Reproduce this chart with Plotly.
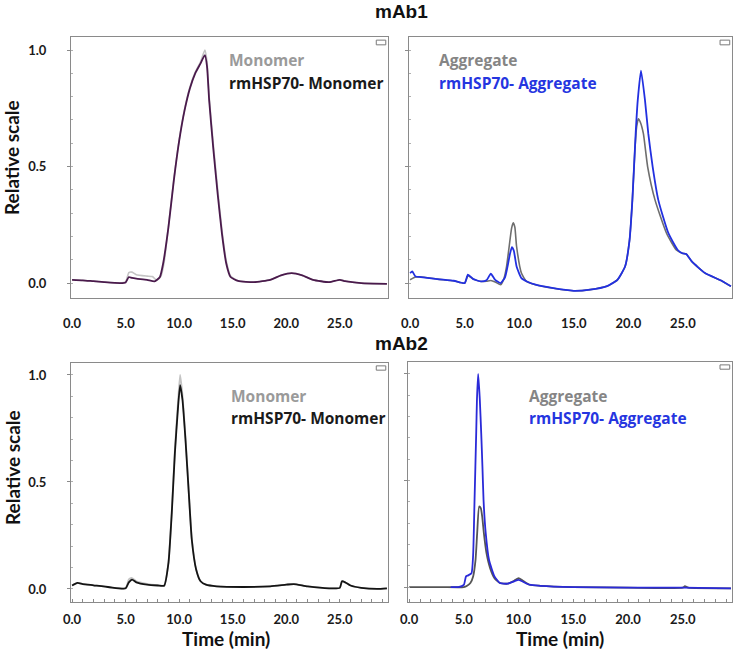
import plotly.graph_objects as go

# ---------------- DATA ----------------
# mAb1 monomer panel
t_m1_ctrl = [0, 2, 4.5, 5.0, 5.3, 5.6, 6, 7, 7.5, 7.9, 8.3, 8.6, 9, 9.5, 10, 10.5, 11, 11.5, 12, 12.4,
             12.6, 12.8, 13.2, 13.6, 14, 14.4, 14.8, 15.5, 17, 18.5, 19.5, 20.5, 21.5, 22.5, 24, 25, 25.5, 27, 29.4]
y_m1_ctrl = [0.014, 0.008, 0.0, 0.005, 0.045, 0.047, 0.036, 0.030, 0.028, 0.012, 0.030, 0.090, 0.245, 0.445,
             0.615, 0.745, 0.840, 0.905, 0.950, 1.0, 0.950, 0.800, 0.590, 0.400, 0.225, 0.095, 0.030, 0.010,
             0.004, 0.014, 0.033, 0.043, 0.033, 0.014, 0.004, 0.014, 0.008, 0.0, -0.003]
t_m1_hsp = [0, 1, 2, 3, 4.5, 5.0, 5.3, 5.6, 6, 7, 7.7, 8.2, 8.5, 9, 9.5, 10, 10.5, 11, 11.5, 12, 12.4, 12.6,
            12.8, 13.2, 13.6, 14, 14.4, 14.8, 15.5, 17, 18.5, 19.5, 20.5, 21.5, 22.5, 24, 25, 25.5, 27, 29.4]
y_m1_hsp = [0.014, 0.012, 0.008, 0.004, 0.0, 0.003, 0.026, 0.022, 0.019, 0.014, 0.007, 0.026, 0.083, 0.240,
            0.440, 0.610, 0.740, 0.835, 0.900, 0.943, 0.978, 0.930, 0.785, 0.570, 0.380, 0.210, 0.083, 0.026,
            0.009, 0.004, 0.014, 0.033, 0.043, 0.033, 0.014, 0.004, 0.014, 0.008, 0.0, -0.003]

# mAb1 aggregate panel
t_a1_ctrl = [0, 0.5, 1, 2.5, 4, 5, 5.3, 5.8, 6.5, 7.0, 7.4, 7.8, 8.3, 8.6, 8.84, 9.08, 9.3, 9.45, 9.6, 9.76,
             10.2, 10.67, 11.5, 13, 15, 16.5, 18, 19, 19.7, 20.1, 20.37, 20.6, 20.76, 20.92, 21.1, 21.38,
             21.77, 22.45, 23.5, 24.4, 24.95, 25.3, 25.81, 27.03, 28.5, 29.4]
y_a1_ctrl = [0.014, 0.026, 0.026, 0.017, 0.010, 0.0, 0.031, 0.017, 0.007, 0.008, 0.011, 0.005, -0.007, 0.02,
             0.071, 0.157, 0.235, 0.259, 0.240, 0.157, 0.043, 0.007, -0.007, -0.021, -0.033, -0.028, -0.014,
             0.014, 0.071, 0.180, 0.356, 0.570, 0.670, 0.705, 0.690, 0.641, 0.499, 0.356, 0.214, 0.142, 0.128,
             0.125, 0.093, 0.043, 0.011, -0.014]
t_a1_hsp = [0, 0.2, 0.5, 1, 2.5, 4, 5, 5.3, 5.8, 6.5, 7.0, 7.4, 7.8, 8.3, 8.7, 8.93, 9.15, 9.33, 9.5, 9.76,
            10.2, 10.7, 11.5, 13, 15, 16.5, 18, 19, 19.7, 20.1, 20.37, 20.67, 20.86, 21.16, 21.53, 21.83,
            22.23, 22.75, 23.67, 24.53, 24.95, 25.3, 25.81, 27.03, 28.5, 29.4]
y_a1_hsp = [0.043, 0.050, 0.028, 0.026, 0.017, 0.010, 0.0, 0.036, 0.017, 0.007, 0.012, 0.040, 0.014, 0.0,
            0.025, 0.071, 0.125, 0.154, 0.140, 0.071, 0.021, 0.007, -0.007, -0.021, -0.033, -0.028, -0.014,
            0.014, 0.071, 0.180, 0.356, 0.641, 0.783, 0.912, 0.783, 0.641, 0.499, 0.356, 0.214, 0.142, 0.128,
            0.125, 0.093, 0.043, 0.011, -0.014]

# mAb2 monomer panel
t_m2_ctrl = [0, 0.5, 1, 2, 3.5, 5, 5.3, 5.6, 6, 7, 8, 8.6, 9, 9.31, 9.6, 9.9, 10.09, 10.31, 10.59, 10.9,
             11.18, 11.59, 12, 12.5, 13.5, 16, 18.5, 20, 20.7, 22, 24, 25, 25.2, 25.5, 26, 27, 28.5, 29.4]
y_m2_ctrl = [0.016, 0.028, 0.023, 0.017, 0.008, 0.003, 0.045, 0.051, 0.036, 0.024, 0.018, 0.016, 0.125,
             0.365, 0.650, 0.880, 1.0, 0.905, 0.710, 0.455, 0.235, 0.092, 0.036, 0.020, 0.012, 0.009, 0.012,
             0.020, 0.023, 0.012, 0.003, 0.005, 0.036, 0.031, 0.016, 0.005, 0.0, 0.003]
t_m2_hsp = [0, 0.5, 1, 2, 3.5, 5, 5.3, 5.6, 6, 7, 8, 8.6, 9, 9.31, 9.6, 9.9, 10.09, 10.31, 10.59, 10.9,
            11.18, 11.59, 12, 12.5, 13.5, 16, 18.5, 20, 20.7, 22, 24, 25, 25.2, 25.5, 26, 27, 28.5, 29.4]
y_m2_hsp = [0.016, 0.028, 0.023, 0.017, 0.008, 0.003, 0.031, 0.044, 0.031, 0.020, 0.016, 0.015, 0.121,
            0.355, 0.635, 0.852, 0.953, 0.883, 0.697, 0.448, 0.230, 0.090, 0.036, 0.020, 0.012, 0.009, 0.012,
            0.020, 0.023, 0.012, 0.003, 0.005, 0.036, 0.031, 0.016, 0.005, 0.0, 0.003]

# mAb2 aggregate panel
t_a2_ctrl = [0, 3, 5.0, 5.3, 5.6, 5.85, 6.07, 6.22, 6.4, 6.55, 6.68, 6.83, 7.07, 7.4, 7.8, 8.3, 9, 9.6,
             10.0, 10.4, 11, 12, 15, 20, 25, 25.2, 25.5, 29.4]
y_a2_ctrl = [0.0, 0.0, 0.0, 0.006, 0.019, 0.050, 0.128, 0.253, 0.378, 0.370, 0.330, 0.253, 0.159, 0.089,
             0.042, 0.019, 0.016, 0.030, 0.042, 0.030, 0.011, 0.006, 0.0, -0.003, -0.003, 0.004, -0.003, -0.006]
t_a2_hsp = [3.8, 4.5, 5.0, 5.2, 5.4, 5.7, 5.85, 5.98, 6.13, 6.2, 6.31, 6.46, 6.59, 6.7, 6.8, 7.0, 7.3, 7.8,
            8.3, 9, 9.6, 10.0, 10.4, 11, 12, 15, 20, 25, 29.4]
y_a2_hsp = [0.0, 0.0, 0.010, 0.050, 0.055, 0.065, 0.150, 0.410, 0.720, 0.880, 1.0, 0.880, 0.720, 0.566,
            0.410, 0.253, 0.128, 0.050, 0.019, 0.016, 0.027, 0.034, 0.025, 0.011, 0.006, 0.0, -0.003, -0.003, -0.006]

y_tickvals = [0.0, 0.5, 1.0]
y_ticktext = ["0.0", "0.5", "1.0"]
x_tickvals = [0, 5, 10, 15, 20, 25]
x_ticktext = ["0.0", "5.0", "10.0", "15.0", "20.0", "25.0"]

# ---------------- FIGURE ----------------
W, H = 734, 649
def px(x): return x / W
def py(y): return 1 - y / H

fig = go.Figure()

panels = [
    ("", (71, 388), (37, 298), [-0.064, 1.056],
     [(t_m1_ctrl, y_m1_ctrl, "#c4c4c4", 1.6), (t_m1_hsp, y_m1_hsp, "#4a1a4c", 1.8)]),
    ("2", (409, 732), (37, 298), [-0.064, 1.056],
     [(t_a1_ctrl, y_a1_ctrl, "#6e6e6e", 1.6), (t_a1_hsp, y_a1_hsp, "#2230e0", 1.8)]),
    ("3", (71, 388), (363, 602), [-0.061, 1.056],
     [(t_m2_ctrl, y_m2_ctrl, "#c4c4c4", 1.8), (t_m2_hsp, y_m2_hsp, "#141414", 1.8)]),
    ("4", (408, 732), (362, 602), [-0.07, 1.056],
     [(t_a2_ctrl, y_a2_ctrl, "#555555", 1.8), (t_a2_hsp, y_a2_hsp, "#2a2ad8", 1.8)]),
]

tickfont = dict(family="Lato", size=13, color="#1a1a1a", weight="bold")

for i, (suf, xd, yd, yr, series) in enumerate(panels):
    for (tt, yy, col, w) in series:
        fig.add_trace(go.Scatter(x=tt, y=yy, mode="lines",
                                 line=dict(color=col, width=w, shape="spline", smoothing=0.5),
                                 xaxis="x" + suf, yaxis="y" + suf, showlegend=False,
                                 hoverinfo="skip"))
    left = i in (0, 2)
    bottom = i in (2, 3)
    xa = dict(domain=[px(xd[0]), px(xd[1])], range=[-0.1, 29.5], anchor="y" + suf,
              showline=True, mirror=True, linecolor="#8a8a8a", linewidth=1,
              showgrid=False, zeroline=False, tickvals=x_tickvals, ticktext=x_ticktext,
              tickfont=tickfont, ticks="", ticklabelstandoff=13 if not bottom else 5)
    if bottom:
        xa["minor"] = dict(ticks="inside", ticklen=3, dtick=1, tickcolor="#8a8a8a", tick0=0)
    ya = dict(domain=[py(yd[1]), py(yd[0])], range=yr, anchor="x" + suf,
              showline=True, mirror=True, linecolor="#8a8a8a", linewidth=1,
              showgrid=False, zeroline=False, tickvals=y_tickvals,
              ticktext=y_ticktext if left else ["", "", ""],
              tickfont=tickfont, ticks="outside", ticklen=3, tickcolor="#8a8a8a",
              minor=dict(ticks="inside", ticklen=2, dtick=0.1, tick0=0, tickcolor="#b0b0b0"))
    if left:
        ya["ticklabelstandoff"] = 18
    fig.layout["xaxis" + suf] = xa
    fig.layout["yaxis" + suf] = ya
    fig.add_shape(type="rect", xref=("x" + suf + " domain"), yref=("y" + suf + " domain"),
                  x0=0.963, x1=0.993, y0=0.970, y1=0.988,
                  line=dict(color="#7a7a7a", width=1), fillcolor="white")

legfont = dict(family="Open Sans", size=15.5, weight="bold")
ann = []
def add_text(text, x, y, color, xanchor="left", font=None, angle=0):
    f = dict(legfont if font is None else font)
    f["color"] = color
    ann.append(dict(text=text, x=px(x), y=py(y), xref="paper", yref="paper",
                    xanchor=xanchor, yanchor="middle", showarrow=False, font=f,
                    textangle=angle))

add_text("Monomer", 227, 60, "#9a9a9a")
add_text("rmHSP70- Monomer", 227, 83, "#1a1a1a")
add_text("Aggregate", 437, 60, "#858585")
add_text("rmHSP70- Aggregate", 437, 83, "#2535e0")
add_text("Monomer", 229, 396, "#9a9a9a")
add_text("rmHSP70- Monomer", 229, 418, "#1a1a1a")
add_text("Aggregate", 527, 396, "#858585")
add_text("rmHSP70- Aggregate", 527, 418, "#2535e0")

titlefont = dict(family="Liberation Sans", size=19, weight="bold")
add_text("mAb1", 401, 12, "#111111", xanchor="center", font=titlefont)
add_text("mAb2", 401, 343, "#111111", xanchor="center", font=titlefont)

labfont = dict(family="Lato", size=19, weight="bold")
add_text("Relative scale", 12, 158, "#111111", xanchor="center", font=labfont, angle=-90)
add_text("Relative scale", 12, 468, "#111111", xanchor="center", font=labfont, angle=-90)
add_text("Time (min)", 226, 638, "#111111", xanchor="center", font=labfont)
add_text("Time (min)", 560, 638, "#111111", xanchor="center", font=labfont)

fig.update_layout(width=W, height=H, margin=dict(l=0, r=0, t=0, b=0, autoexpand=False),
                  paper_bgcolor="white", plot_bgcolor="white", annotations=ann)

fig.write_html("out.html", config={"displayModeBar": False},
               post_script="document.body.style.margin='0px';document.body.style.overflow='hidden';")
